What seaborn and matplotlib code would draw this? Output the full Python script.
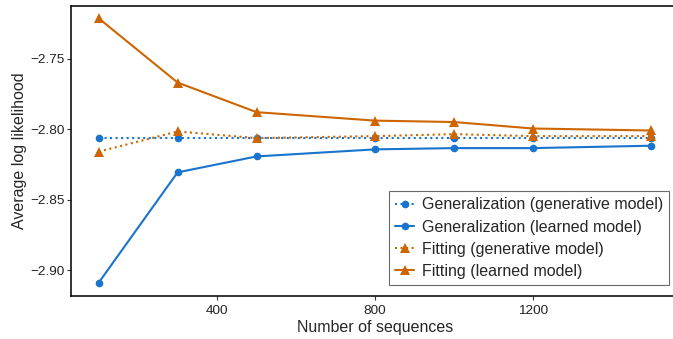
import matplotlib
matplotlib.use("Agg")
import matplotlib.pyplot as plt
import seaborn as sns
import pandas as pd

n_sequences = [100, 300, 500, 800, 1000, 1200, 1500]
gen_generative = [-2.806, -2.806, -2.806, -2.806, -2.806, -2.806, -2.806]
gen_learned = [-2.909, -2.8307, -2.8194, -2.8144, -2.8135, -2.8135, -2.8118]
fit_generative = [-2.816, -2.8017, -2.8064, -2.805, -2.8036, -2.805, -2.805]
fit_learned = [-2.7214, -2.767, -2.788, -2.794, -2.795, -2.7996, -2.801]

series_names = [
    "Generalization (generative model)",
    "Generalization (learned model)",
    "Fitting (generative model)",
    "Fitting (learned model)",
]
series_values = [gen_generative, gen_learned, fit_generative, fit_learned]

blue = "#1874CD"
orange = "#CD6600"
styles = {
    series_names[0]: dict(color=blue, ls=":", marker="o", ms=5.5),
    series_names[1]: dict(color=blue, ls="-", marker="o", ms=5.5),
    series_names[2]: dict(color=orange, ls=":", marker="^", ms=6.5),
    series_names[3]: dict(color=orange, ls="-", marker="^", ms=6.5),
}

df = pd.DataFrame(
    [(n, v, name) for name, vals in zip(series_names, series_values)
     for n, v in zip(n_sequences, vals)],
    columns=["n", "ll", "series"],
)

sns.set_theme(style="ticks")
plt.rcParams["font.family"] = ["Liberation Sans", "DejaVu Sans"]

fig = plt.figure(figsize=(6.73, 3.39), dpi=100)
W, H = 673, 339
ax = fig.add_axes([71 / W, 1 - 296 / H, 608 / W, 290 / H])

for name in series_names:
    st = styles[name]
    sns.lineplot(
        data=df[df["series"] == name], x="n", y="ll", ax=ax,
        color=st["color"], linestyle=st["ls"], marker=st["marker"],
        markersize=st["ms"], markeredgewidth=0, linewidth=1.5,
        label=name,
    )

ax.set_xlim(30, 1570)
ax.set_xticks([400, 800, 1200])
ax.set_yticks([-2.90, -2.85, -2.80, -2.75])
ax.set_ylim(-2.9184, -2.7127)
ax.set_xlabel("Number of sequences", fontsize=11.5, labelpad=2)
ax.set_ylabel("Average log likelihood", fontsize=11.5, labelpad=2)
ax.tick_params(labelsize=9.7, length=3, width=0.8, colors="#333333", labelcolor="#222222")
ax.tick_params(axis="y", pad=1.5)
for side in ["left", "bottom", "top", "right"]:
    ax.spines[side].set_visible(True)
    ax.spines[side].set_color("#111111")
    ax.spines[side].set_linewidth(1.2)

leg = ax.legend(
    loc="lower right", bbox_to_anchor=(598 / 608, 11 / 290), borderaxespad=0,
    fontsize=11.5, frameon=True, fancybox=False, handlelength=1.2,
    handletextpad=0.45, labelspacing=0.45, borderpad=0.38,
)
leg.get_frame().set_edgecolor("#444444")
leg.get_frame().set_linewidth(0.8)

fig.savefig("out.png", dpi=100)
